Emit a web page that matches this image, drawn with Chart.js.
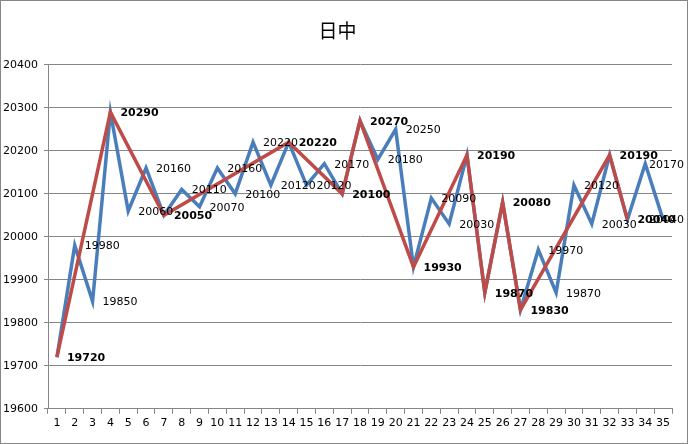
<!DOCTYPE html>
<html>
<head>
<meta charset="utf-8">
<script src="https://cdn.jsdelivr.net/npm/chart.js@4"></script>
<style>
  html, body { margin: 0; padding: 0; background: #fff; }
  canvas { display: block; }
</style>
</head>
<body>
<canvas id="chart" width="688" height="444"></canvas>
<script>
const categories = Array.from({ length: 35 }, (_, i) => String(i + 1));

const priceSeries = [
    19720, 19980, 19850, 20290, 20060, 20160, 20050, 20110, 20070, 20160,
    20100, 20220, 20120, 20220, 20120, 20170, 20100, 20270, 20180, 20250,
    19930, 20090, 20030, 20190, 19870, 20080, 19830, 19970, 19870, 20120,
    20030, 20190, 20040, 20170, 20040,
];

const zigzagSeries = [
    19720, null, null, 20290, null, null, 20050, null, null, null,
    null, null, null, 20220, null, null, 20100, 20270, null, null,
    19930, null, null, 20190, 19870, 20080, 19830, null, null, null,
    null, 20190, 20040, null, null,
];

const yTicks = [19600, 19700, 19800, 19900, 20000, 20100, 20200, 20300, 20400];

const fontFamily = "'DejaVu Sans', sans-serif";

// white background and outer frame, like the spreadsheet chart box
const frame = {
    id: 'frame',
    beforeDraw(chart) {
        const { ctx, width, height } = chart;
        ctx.save();
        ctx.fillStyle = '#ffffff';
        ctx.fillRect(0, 0, width, height);
        ctx.restore();
    },
    afterDraw(chart) {
        const { ctx, width, height } = chart;
        ctx.save();
        ctx.strokeStyle = '#868686';
        ctx.lineWidth = 1;
        ctx.strokeRect(0.5, 0.5, width - 1, height - 1);
        ctx.restore();
    },
};

// value labels to the right of every point (blue ones hidden under the red pivots)
const pointLabels = {
    id: 'pointLabels',
    afterDatasetsDraw(chart) {
        const { ctx, width } = chart;
        ctx.save();
        ctx.textBaseline = 'middle';
        ctx.textAlign = 'left';
        ctx.fillStyle = '#000000';

        [1, 0].forEach((datasetIndex) => {
            const dataset = chart.data.datasets[datasetIndex];
            const meta = chart.getDatasetMeta(datasetIndex);
            ctx.font = `${dataset.labelBold ? 'bold ' : ''}11px ${fontFamily}`;

            meta.data.forEach((point, i) => {
                const value = dataset.data[i];
                if (value === null || value === undefined) {
                    return;
                }
                if (datasetIndex === 1 && zigzagSeries[i] !== null) {
                    return;
                }
                const text = String(value);
                const textWidth = ctx.measureText(text).width;
                const x = Math.min(point.x + 10, width - 4 - textWidth);
                ctx.fillText(text, x, point.y + 1);
            });
        });

        ctx.restore();
    },
};

new Chart(document.getElementById('chart'), {
    type: 'line',
    data: {
        labels: categories,
        datasets: [
            {
                label: 'ZigZag',
                data: zigzagSeries,
                borderColor: '#be4b48',
                borderWidth: 3.5,
                pointRadius: 0,
                spanGaps: true,
                tension: 0,
                order: 0,
                labelBold: true,
            },
            {
                label: '日中',
                data: priceSeries,
                borderColor: '#4a7ebb',
                borderWidth: 3.5,
                pointRadius: 0,
                tension: 0,
                order: 1,
                labelBold: false,
            },
        ],
    },
    options: {
        responsive: false,
        animation: false,
        layout: {
            padding: { left: 3, right: 16, top: 0, bottom: 11 },
        },
        plugins: {
            legend: { display: false },
            tooltip: { enabled: false },
            title: {
                display: true,
                text: '日中',
                color: '#000000',
                font: { family: "'Noto Sans CJK SC', sans-serif", size: 19, weight: 'normal', lineHeight: 1.2 },
                padding: { top: 19, bottom: 23 },
            },
        },
        scales: {
            x: {
                offset: true,
                grid: {
                    offset: true,
                    drawOnChartArea: false,
                    drawTicks: true,
                    tickLength: 5,
                    color: '#868686',
                },
                border: { color: '#868686', width: 1 },
                ticks: {
                    color: '#000000',
                    autoSkip: false,
                    maxRotation: 0,
                    padding: 3,
                    font: { family: fontFamily, size: 11 },
                },
            },
            y: {
                min: yTicks[0],
                max: yTicks[yTicks.length - 1],
                afterBuildTicks(axis) {
                    axis.ticks = yTicks.map((value) => ({ value }));
                },
                afterFit(axis) {
                    axis.width = 45;
                },
                grid: {
                    color: '#868686',
                    tickLength: 4,
                },
                border: { color: '#868686', width: 1 },
                ticks: {
                    color: '#000000',
                    crossAlign: 'far',
                    padding: 6,
                    font: { family: fontFamily, size: 11 },
                    callback(value) {
                        return String(value);
                    },
                },
            },
        },
    },
    plugins: [frame, pointLabels],
});
</script>
</body>
</html>
